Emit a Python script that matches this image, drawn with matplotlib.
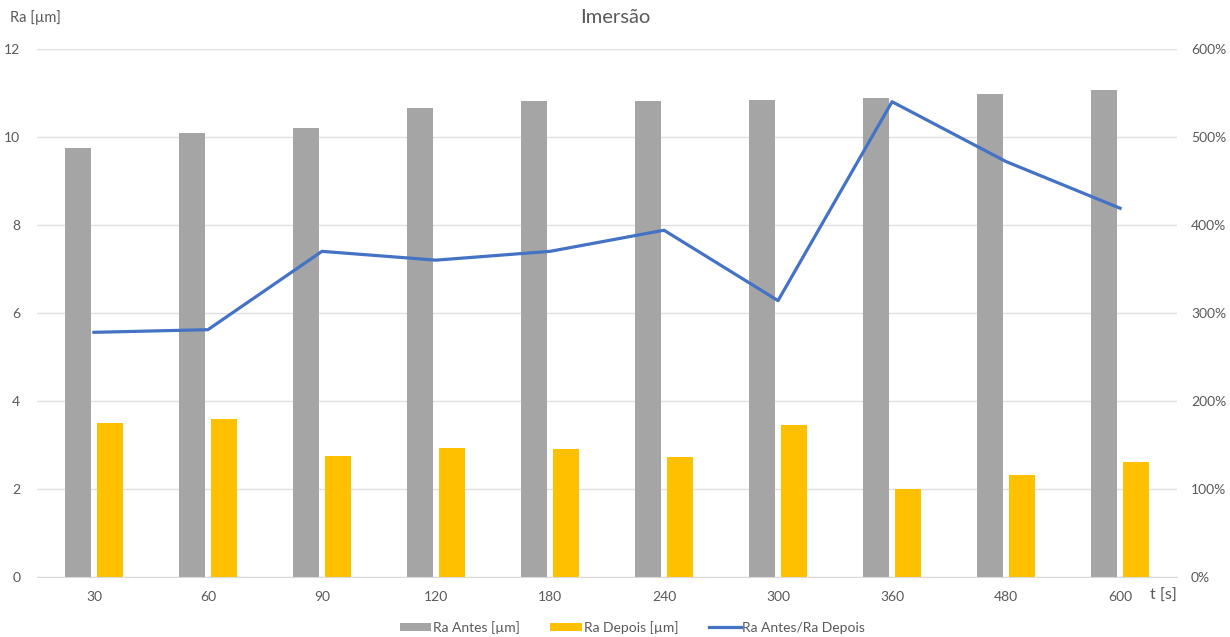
import numpy as np
import matplotlib.pyplot as plt
from matplotlib.ticker import PercentFormatter

plt.rcParams['font.family'] = ['Lato', 'DejaVu Sans']

# tempos de imersão e rugosidade medida
tempos = ['30', '60', '90', '120', '180', '240', '300', '360', '480', '600']
ra_antes = [9.75, 10.08, 10.20, 10.65, 10.82, 10.82, 10.84, 10.89, 10.98, 11.07]
ra_depois = [3.49, 3.58, 2.75, 2.93, 2.91, 2.72, 3.46, 2.00, 2.32, 2.62]
razao = [278, 281, 370, 360, 370, 394, 314, 540, 472, 419]  # Ra Antes/Ra Depois [%]

cinza = '#a5a5a5'
laranja = '#ffc000'
azul = '#4472c4'
txt = '#595959'

fig = plt.figure(figsize=(12.3, 6.37), dpi=100)
ax = fig.add_axes([0.0300, 0.0942, 0.927, 0.829])
ax2 = ax.twinx()

x = np.arange(len(tempos))
w = 0.23
ax.bar(x - 0.14, ra_antes, w, color=cinza, label='Ra Antes [µm]', zorder=2)
ax.bar(x + 0.14, ra_depois, w, color=laranja, label='Ra Depois [µm]', zorder=2)
ax2.plot(x, razao, color=azul, lw=2.3, label='Ra Antes/Ra Depois', zorder=3)

ax.set_xlim(-0.5, len(tempos) - 0.5)
ax.set_ylim(0, 12)
ax.set_yticks(range(0, 13, 2))
ax2.set_ylim(0, 600)
ax2.set_yticks(range(0, 601, 100))
ax2.yaxis.set_major_formatter(PercentFormatter(decimals=0))

ax.set_xticks(x)
ax.set_xticklabels(tempos)
ax.grid(axis='y', color='#e0e0e0', lw=1, zorder=0)
ax.set_axisbelow(True)

for a in (ax, ax2):
    for s in a.spines.values():
        s.set_visible(False)
    a.tick_params(length=0, labelsize=10, colors=txt)
ax.tick_params(axis='x', pad=10)
ax.tick_params(axis='y', pad=12)
ax2.tick_params(axis='y', pad=10)
ax.spines['bottom'].set_visible(True)
ax.spines['bottom'].set_color('#d9d9d9')

fig.text(0.5, 0.972, 'Imersão', ha='center', va='center', fontsize=14.5, color=txt)
fig.text(0.008, 0.972, 'Ra [µm]', ha='left', va='center', fontsize=10.5, color=txt)
fig.text(0.935, 0.064, 't [s]', ha='left', va='center', fontsize=11.5, color=txt)

h1, l1 = ax.get_legend_handles_labels()
h2, l2 = ax2.get_legend_handles_labels()
fig.legend(h1 + h2, l1 + l2, loc='center', bbox_to_anchor=(0.514, 0.015),
           ncol=3, frameon=False, fontsize=10, labelcolor=txt,
           handlelength=2.3, handleheight=0.6, columnspacing=2.2, handletextpad=0.1)

fig.savefig('out.png', dpi=100)
